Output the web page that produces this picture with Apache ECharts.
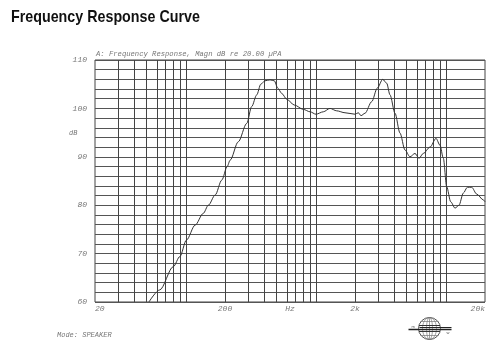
<!DOCTYPE html>
<html lang="en">
<head>
    <meta charset="UTF-8">
    <title>Frequency Response Curve</title>
    <script src="https://cdn.jsdelivr.net/npm/echarts@6/dist/echarts.min.js"></script>
    <style>
        html, body { margin: 0; padding: 0; background: #fff; }
        #chart { width: 500px; height: 351px; }
    </style>
</head>
<body>
    <div id="chart"></div>
    <script>
        // frequency (Hz) and level (dB)
        var freqs = [52, 63, 80, 90, 101, 118, 136, 149, 168, 189, 208, 219, 253, 294, 321,
            351, 377, 406, 444, 479, 509, 546, 597, 682, 801, 901, 1002, 1141, 1284, 1446,
            1675, 2000, 2120, 2224, 2388, 2689, 2969, 3268, 3506, 3718, 4062, 4438, 4848, 5298, 5788,
            6214, 6706, 7553, 8395, 9014, 9558, 10150, 10900, 11760, 12620, 13620, 14620, 15800, 17270, 19400,
            20000];
        var levels = [60.0, 62.5, 67.3, 69.4, 72.8, 75.9, 78.3, 80.0, 82.1, 85.2, 88.0, 89.3, 93.1, 96.9, 100.4,
            102.8, 105.0, 105.7, 105.9, 105.7, 104.2, 103.1, 101.9, 100.7, 99.8, 99.3, 98.8, 99.3, 100.0, 99.5,
            99.1, 98.8, 99.1, 98.5, 99.0, 101.4, 104.2, 106.0, 105.2, 102.8, 99.0, 94.9, 91.4, 90.0, 90.7,
            89.7, 90.7, 92.0, 93.8, 92.4, 89.7, 83.8, 80.7, 79.4, 80.0, 82.5, 83.7, 83.7, 82.3, 81.1,
            80.7];

        // vertical grid lines (Hz)
        var gridFreqs = [30, 40, 50, 60, 70, 80, 90, 100,
            200, 300, 400, 500, 600, 700, 800, 900, 1000,
            2000, 3000, 4000, 5000, 6000, 7000, 8000, 9000, 10000];

        // x tick labels, position in decades above 20 Hz
        var xTickPos = [0, 1, 1.5, 2, 3];
        var xTickText = ['20', '200', 'Hz', '2k', '20k'];

        var monoFont = '"Liberation Mono", "DejaVu Sans Mono", monospace';
        var myChart = echarts.init(document.getElementById('chart'));

        var points = [];
        for (var i = 0; i < freqs.length; i++) {
            points.push([freqs[i], levels[i]]);
        }

        var option = {
            animation: false,
            backgroundColor: '#fff',
            grid: {
                left: 95,
                right: 15,
                top: 60,
                bottom: 49,
                show: true,
                borderColor: '#444',
                borderWidth: 1
            },
            xAxis: [
                {
                    type: 'log',
                    logBase: 10,
                    min: 20,
                    max: 20000,
                    axisLine: { show: false },
                    axisTick: { show: false },
                    axisLabel: { show: false },
                    splitLine: { show: false }
                },
                {
                    // only carries the tick labels
                    type: 'value',
                    min: 0,
                    max: 3,
                    interval: 0.5,
                    position: 'bottom',
                    axisLine: { show: false },
                    axisTick: { show: false },
                    splitLine: { show: false },
                    axisLabel: {
                        margin: 3,
                        fontFamily: monoFont,
                        fontStyle: 'italic',
                        fontSize: 8,
                        color: '#777',
                        alignMinLabel: 'left',
                        alignMaxLabel: 'right',
                        formatter: function (v) {
                            var k = xTickPos.indexOf(v);
                            return k >= 0 ? xTickText[k] : '';
                        }
                    }
                }
            ],
            yAxis: {
                type: 'value',
                min: 60,
                max: 110,
                interval: 2,
                axisLine: { show: false },
                axisTick: { show: false },
                splitLine: { show: true, lineStyle: { color: '#555', width: 1 } },
                axisLabel: {
                    margin: 8,
                    fontFamily: monoFont,
                    fontStyle: 'italic',
                    fontSize: 8,
                    color: '#777',
                    formatter: function (v) {
                        return v % 10 === 0 ? String(v) : '';
                    }
                }
            },
            series: [
                {
                    // vertical grid
                    type: 'line',
                    xAxisIndex: 0,
                    data: [],
                    silent: true,
                    markLine: {
                        silent: true,
                        symbol: 'none',
                        label: { show: false },
                        lineStyle: { color: '#444', width: 1, type: 'solid' },
                        data: gridFreqs.map(function (f) { return { xAxis: f }; })
                    }
                },
                {
                    name: 'Magn',
                    type: 'line',
                    xAxisIndex: 0,
                    data: points,
                    symbol: 'none',
                    smooth: 0.3,
                    smoothMonotone: 'x',
                    lineStyle: { color: '#333', width: 1 },
                    z: 5
                }
            ],
            graphic: [
                {
                    // title, squeezed a little to match the narrow original face
                    type: 'text',
                    x: 11,
                    y: 9,
                    scaleX: 0.84,
                    style: {
                        text: 'Frequency Response Curve',
                        font: 'bold 17px "Liberation Sans", Arial, sans-serif',
                        fill: '#111'
                    }
                },
                {
                    type: 'text',
                    left: 96,
                    top: 51,
                    style: {
                        text: 'A: Frequency Response, Magn dB re 20.00 \u00b5PA',
                        font: 'italic 7.2px ' + monoFont,
                        fill: '#777'
                    }
                },
                {
                    type: 'text',
                    left: 69,
                    top: 130,
                    style: {
                        text: 'dB',
                        font: 'italic 7px ' + monoFont,
                        fill: '#777'
                    }
                },
                {
                    type: 'text',
                    left: 57,
                    top: 332,
                    style: {
                        text: 'Mode: SPEAKER',
                        font: 'italic 7px ' + monoFont,
                        fill: '#777'
                    }
                },
                {
                    // globe logo
                    type: 'group',
                    left: 406,
                    top: 315,
                    children: [
                        { type: 'circle', shape: { cx: 22, cy: 12, r: 11 }, style: { fill: '#fff', stroke: '#555', lineWidth: 1 } },
                        { type: 'ellipse', shape: { cx: 22, cy: 12, rx: 7, ry: 11 }, style: { fill: 'none', stroke: '#777', lineWidth: 0.7 } },
                        { type: 'ellipse', shape: { cx: 22, cy: 12, rx: 3, ry: 11 }, style: { fill: 'none', stroke: '#777', lineWidth: 0.7 } },
                        { type: 'line', shape: { x1: 22, y1: 1, x2: 22, y2: 23 }, style: { stroke: '#777', lineWidth: 0.7 } },
                        { type: 'line', shape: { x1: 13, y1: 5, x2: 31, y2: 5 }, style: { stroke: '#777', lineWidth: 0.7 } },
                        { type: 'line', shape: { x1: 11.5, y1: 9, x2: 32.5, y2: 9 }, style: { stroke: '#333', lineWidth: 1 } },
                        { type: 'line', shape: { x1: 11.5, y1: 15, x2: 32.5, y2: 15 }, style: { stroke: '#333', lineWidth: 1 } },
                        { type: 'line', shape: { x1: 13, y1: 19, x2: 31, y2: 19 }, style: { stroke: '#777', lineWidth: 0.7 } },
                        { type: 'line', shape: { x1: 1, y1: 13, x2: 44, y2: 13 }, style: { stroke: '#222', lineWidth: 1.5 } },
                        { type: 'line', shape: { x1: 12, y1: 11, x2: 44, y2: 11 }, style: { stroke: '#222', lineWidth: 1 } },
                        { type: 'text', x: 4, y: 8, style: { text: 'm', font: '4px sans-serif', fill: '#555' } },
                        { type: 'text', x: 39, y: 14, style: { text: 'w', font: '4px sans-serif', fill: '#555' } }
                    ]
                }
            ]
        };

        myChart.setOption(option);
    </script>
</body>
</html>
